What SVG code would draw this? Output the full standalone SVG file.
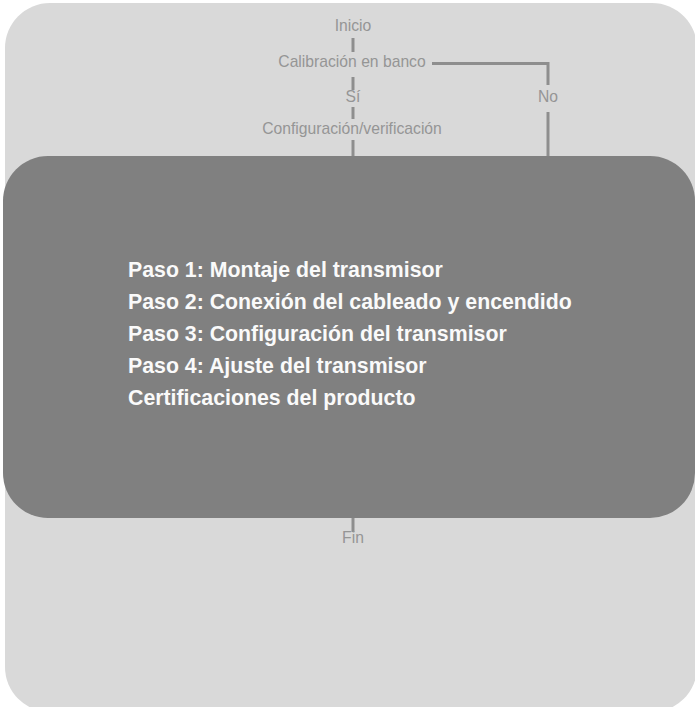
<svg xmlns="http://www.w3.org/2000/svg" width="695" height="707" viewBox="0 0 695 707">
<style>
.lbl{font-family:"Liberation Sans",Arial,sans-serif;font-size:15.7px;fill:#959595;text-anchor:middle}
.step{font-family:"Liberation Sans",Arial,sans-serif;font-size:21.3px;font-weight:bold;fill:#fafafa}
.ln{stroke:#8e8e8e;stroke-width:3;fill:none}
</style>
<rect x="5" y="3" width="692" height="709" rx="45" ry="45" fill="#d9d9d9"/>
<g id="connectors">
<line class="ln" x1="353" y1="38" x2="353" y2="52"/>
<line class="ln" x1="353" y1="77" x2="353" y2="90"/>
<line class="ln" x1="353" y1="107" x2="353" y2="119"/>
<line class="ln" x1="353" y1="140" x2="353" y2="157"/>
<polyline class="ln" points="432,63.5 548,63.5 548,85"/>
<line class="ln" x1="548" y1="112" x2="548" y2="157"/>
<line class="ln" x1="353" y1="516" x2="353" y2="532"/>
</g>
<g id="inicio"><text class="lbl" x="353" y="31">Inicio</text></g>
<g id="calibracion"><text class="lbl" x="352" y="67">Calibración en banco</text></g>
<g id="si"><text class="lbl" x="353" y="102">Sí</text></g>
<g id="no"><text class="lbl" x="548" y="102">No</text></g>
<g id="config"><text class="lbl" x="352" y="134">Configuración/verificación</text></g>
<g id="main">
<rect x="3" y="156" width="692" height="362" rx="45" ry="45" fill="#808080"/>
<text class="step" x="128" y="277">Paso 1: Montaje del transmisor</text>
<text class="step" x="128" y="309">Paso 2: Conexión del cableado y encendido</text>
<text class="step" x="128" y="341">Paso 3: Configuración del transmisor</text>
<text class="step" x="128" y="373">Paso 4: Ajuste del transmisor</text>
<text class="step" x="128" y="405">Certificaciones del producto</text>
</g>
<g id="fin"><text class="lbl" x="353" y="543">Fin</text></g>
</svg>
